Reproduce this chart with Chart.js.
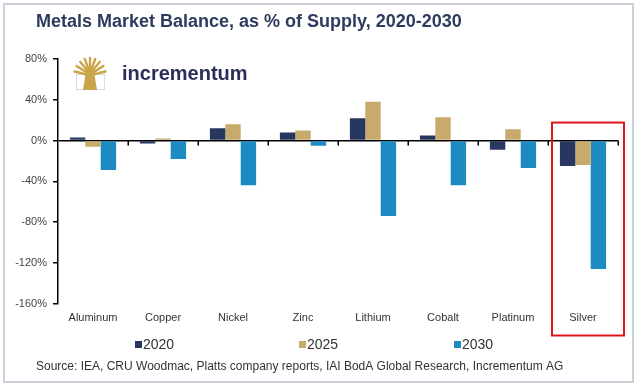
<!DOCTYPE html>
<html>
<head>
<meta charset="utf-8" />
<script src="https://cdn.jsdelivr.net/npm/chart.js@4"></script>
<style>
  html, body { margin: 0; padding: 0; background: #fff; }
  #chart { display: block; }
</style>
</head>
<body>
<canvas id="chart" width="640" height="386"></canvas>
<script>
// Metals market balance as % of supply, three snapshot years per metal.

const CATEGORIES = ["Aluminum", "Copper", "Nickel", "Zinc", "Lithium", "Cobalt", "Platinum", "Silver"];
const YEARS = ["2020", "2025", "2030"];
const BAL_2020 = [3, -3, 12, 8, 22, 5, -9, -25];
const BAL_2025 = [-6, 2, 16, 10, 38, 23, 11, -24];
const BAL_2030 = [-29, -18, -44, -5, -74, -44, -27, -126];
const Y_TICKS = [80, 40, 0, -40, -80, -120, -160];

const COLORS = ["#27375f", "#c8aa6c", "#1d8bc1"];
const FONT = "Arial, 'Liberation Sans', sans-serif";

// ---------------------------------------------------------------------------
// Decorations: frame, logo, axis ticks on zero line, legend, highlight box
// ---------------------------------------------------------------------------
const decorations = {
  id: "decorations",
  afterLayout(chart) {
    // the y axis is narrow so the title lines up; let its labels spill left
    chart.scales.y.left = 0;
  },
  beforeDraw(chart) {
    const { ctx, width, height } = chart;
    ctx.save();
    ctx.fillStyle = "#fff";
    ctx.fillRect(0, 0, width, height);
    ctx.strokeStyle = "#cdd1da";
    ctx.lineWidth = 2;
    ctx.strokeRect(4, 4, 629, 378);
    ctx.restore();
  },
  beforeDatasetsDraw(chart) {
    const { ctx } = chart;
    ctx.save();
    // tree icon
    ctx.strokeStyle = "#d9dbe0";
    ctx.lineWidth = 1;
    ctx.strokeRect(76.5, 74.5, 28, 15);
    ctx.fillStyle = "#fff";
    ctx.fillRect(77, 75, 27, 14);
    ctx.strokeStyle = "#c9a449";
    ctx.lineCap = "round";
    ctx.lineWidth = 2.4;
    const bx = 90, by = 76;
    for (let i = 0; i < 9; i++) {
      const a = Math.PI * (1.08 + i * 0.105);
      ctx.beginPath();
      ctx.moveTo(bx, by);
      ctx.quadraticCurveTo(bx + Math.cos(a) * 6, by + Math.sin(a) * 10,
        bx + Math.cos(a) * 16, by + Math.sin(a) * 18);
      ctx.stroke();
    }
    ctx.fillStyle = "#c9a449";
    ctx.beginPath();
    ctx.moveTo(86, 72);
    ctx.lineTo(94, 72);
    ctx.lineTo(97, 90);
    ctx.lineTo(83, 90);
    ctx.closePath();
    ctx.fill();
    // wordmark
    ctx.fillStyle = "#2b2e5c";
    ctx.font = "bold 20px " + FONT;
    ctx.textBaseline = "middle";
    ctx.fillText("incrementum", 122, 74);
    ctx.restore();
  },
  afterDatasetsDraw(chart) {
    const { ctx, scales: { x, y }, chartArea } = chart;
    ctx.save();
    // small ticks under the zero line at category boundaries
    const y0 = y.getPixelForValue(0);
    const step = (x.right - x.left) / CATEGORIES.length;
    ctx.strokeStyle = "#000";
    ctx.lineWidth = 1.5;
    for (let i = 1; i <= CATEGORIES.length; i++) {
      const px = Math.round(x.left + i * step) + 0.25;
      ctx.beginPath();
      ctx.moveTo(px, y0);
      ctx.lineTo(px, y0 + 5);
      ctx.stroke();
    }
    // red highlight around the last category
    const cx = x.getPixelForValue(CATEGORIES.length - 1);
    ctx.strokeStyle = "#e0141b";
    ctx.lineWidth = 2;
    ctx.strokeRect(cx - 31, y0 - 18, 72, chartArea.bottom + 32 - (y0 - 18));

    // legend row
    const legendX = [135, 299, 454];
    ctx.font = "14px " + FONT;
    ctx.textBaseline = "middle";
    chart.data.datasets.forEach((ds, i) => {
      ctx.fillStyle = ds.backgroundColor;
      ctx.fillRect(legendX[i], 341, 7, 7);
      ctx.fillStyle = "#333";
      ctx.fillText(ds.label, legendX[i] + 8, 345);
    });
    ctx.restore();
  },
};

new Chart(document.getElementById("chart"), {
  type: "bar",
  data: {
    labels: CATEGORIES,
    datasets: [
      { label: YEARS[0], data: BAL_2020, backgroundColor: COLORS[0] },
      { label: YEARS[1], data: BAL_2025, backgroundColor: COLORS[1] },
      { label: YEARS[2], data: BAL_2030, backgroundColor: COLORS[2] },
    ],
  },
  options: {
    responsive: false,
    animation: false,
    layout: { padding: { left: 36, right: 22, top: 0, bottom: 8 } },
    datasets: { bar: { categoryPercentage: 0.66, barPercentage: 1, borderWidth: 0 } },
    plugins: {
      legend: { display: false },
      tooltip: { enabled: false },
      title: {
        display: true,
        text: "Metals Market Balance, as % of Supply, 2020-2030",
        align: "start",
        color: "#2d3b5e",
        font: { family: FONT, size: 18, weight: "bold" },
        padding: { top: 11, bottom: 26.5 },
      },
      subtitle: {
        display: true,
        position: "bottom",
        align: "start",
        text: "Source: IEA, CRU Woodmac, Platts company reports, IAI BodA Global Research, Incrementum AG",
        color: "#333",
        font: { family: FONT, size: 12 },
        padding: { top: 26.9, bottom: 4 },
      },
    },
    scales: {
      x: {
        grid: { display: false, drawTicks: false },
        border: { display: false },
        ticks: { color: "#333", font: { family: FONT, size: 11 }, padding: 8, maxRotation: 0 },
      },
      y: {
        min: Y_TICKS[Y_TICKS.length - 1],
        max: Y_TICKS[0],
        afterFit: (scale) => { scale.width = 22; },
        afterBuildTicks: (scale) => { scale.ticks = Y_TICKS.map((v) => ({ value: v })); },
        border: { display: true, color: "#000", width: 1.5 },
        grid: {
          color: (c) => (c.tick && c.tick.value === 0 ? "#000" : "rgba(0,0,0,0)"),
          lineWidth: 1.5,
          tickColor: "#000",
          tickLength: 5,
        },
        ticks: {
          color: "#444",
          font: { family: FONT, size: 11 },
          padding: 6,
          callback: (v) => v + "%",
        },
      },
    },
  },
  plugins: [decorations],
});
</script>
</body>
</html>
